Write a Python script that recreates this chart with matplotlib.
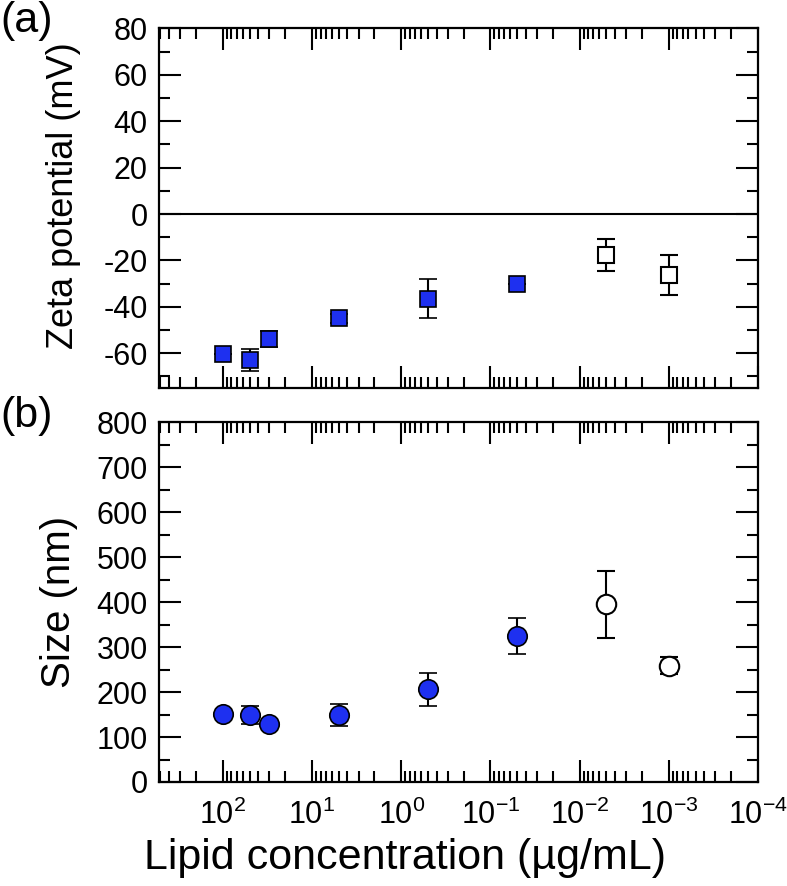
import math
import matplotlib
matplotlib.use("Agg")
import matplotlib.pyplot as plt
from matplotlib.ticker import LogLocator, MultipleLocator, FuncFormatter, NullFormatter

plt.rcParams['font.family'] = ['Liberation Sans', 'DejaVu Sans']
plt.rcParams['mathtext.fontset'] = 'custom'
plt.rcParams['mathtext.rm'] = 'Liberation Sans'
plt.rcParams['mathtext.default'] = 'regular'
plt.rcParams['axes.unicode_minus'] = False

# Data
conc_filled = [100, 50, 30, 5, 0.5, 0.05]
conc_open = [0.005, 0.001]

zeta_filled = [-60.5, -63, -54, -45, -36.5, -30]
zeta_filled_err = [0, 4.7, 3.5, 2, 8.5, 0]
zeta_open = [-17.7, -26.4]
zeta_open_err = [6.8, 8.6]

size_filled = [151, 149, 130, 149, 206, 325]
size_filled_err = [0, 20, 0, 24, 36, 40]
size_open = [395, 259]
size_open_err = [74, 18]

blue = '#1e30f0'

fig = plt.figure(figsize=(7.87, 8.86), dpi=100)
ax1 = fig.add_axes([0.202, 0.562, 0.761, 0.406])
ax2 = fig.add_axes([0.202, 0.1174, 0.761, 0.406])

def sup_fmt(x, pos):
    e = int(round(math.log10(x)))
    return r'$10^{%s}$' % (('-%d' % -e) if e < 0 else str(e))

for ax in (ax1, ax2):
    ax.set_xscale('log')
    ax.set_xlim(520, 1e-4)
    ax.xaxis.set_major_locator(LogLocator(base=10, numticks=20))
    ax.xaxis.set_minor_locator(LogLocator(base=10, subs=range(2, 10), numticks=20))
    ax.xaxis.set_minor_formatter(NullFormatter())
    ax.tick_params(which='both', direction='in', top=True, right=True, width=1.5)
    ax.tick_params(which='major', length=16, labelsize=22, pad=8)
    ax.tick_params(which='minor', length=8)
    for s in ax.spines.values():
        s.set_linewidth(1.6)

ax1.tick_params(axis='x', labelbottom=False)
ax2.xaxis.set_major_formatter(FuncFormatter(sup_fmt))
ax2.tick_params(axis='x', which='major', pad=13)

ebkw = dict(ecolor='black', elinewidth=1.5, capsize=6.5, capthick=1.5, zorder=3)

# Top panel
ax1.set_ylim(-75, 80)
ax1.yaxis.set_major_locator(MultipleLocator(20))
ax1.yaxis.set_minor_locator(MultipleLocator(10))
ax1.axhline(0, color='black', lw=1.5, zorder=1)
ax1.errorbar(conc_filled, zeta_filled, yerr=zeta_filled_err, fmt='s', ms=12,
             mfc=blue, mec='black', mew=1.2, **ebkw)
ax1.errorbar(conc_open, zeta_open, yerr=zeta_open_err, fmt='s', ms=12,
             mfc='white', mec='black', mew=1.5, **ebkw)
ax1.set_ylabel('Zeta potential (mV)', fontsize=26)
ax1.yaxis.set_label_coords(-0.13, 0.535)

# Bottom panel
ax2.set_ylim(0, 800)
ax2.yaxis.set_major_locator(MultipleLocator(100))
ax2.yaxis.set_minor_locator(MultipleLocator(50))
ax2.errorbar(conc_filled, size_filled, yerr=size_filled_err, fmt='o', ms=14,
             mfc=blue, mec='black', mew=1.2, **ebkw)
ax2.errorbar(conc_open, size_open, yerr=size_open_err, fmt='o', ms=14,
             mfc='white', mec='black', mew=1.5, **ebkw)
ax2.set_ylabel('Size (nm)', fontsize=29)
ax2.yaxis.set_label_coords(-0.135, 0.5)
ax2.set_xlabel('Lipid concentration (\u00b5g/mL)', fontsize=31)
ax2.xaxis.set_label_coords(0.41, -0.155)

fig.text(0.0, 0.999, '(a)', fontsize=31, ha='left', va='top')
fig.text(0.0, 0.553, '(b)', fontsize=31, ha='left', va='top')

fig.savefig('out.png', dpi=100)
